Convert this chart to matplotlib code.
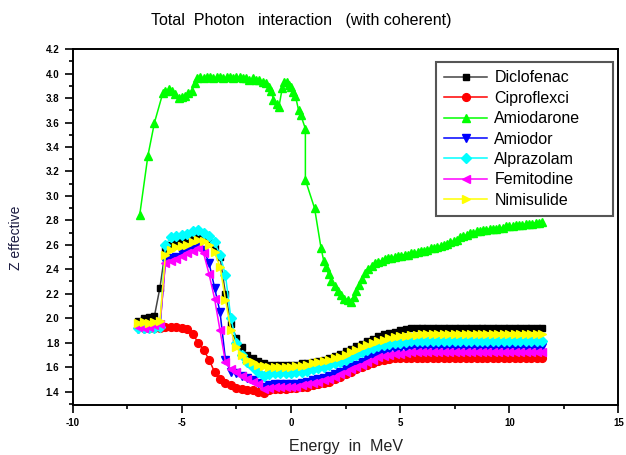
import matplotlib
matplotlib.use('Agg')
import matplotlib.pyplot as plt
from matplotlib.ticker import MultipleLocator, FormatStrFormatter

plt.rcParams['font.family'] = ['Liberation Sans', 'DejaVu Sans']
plt.rcParams['axes.unicode_minus'] = False

# shared energy grid for the six lower curves
energy = [-7.0, -6.75, -6.5, -6.25, -6.0, -5.75, -5.5, -5.25, -5.0, -4.75,
          -4.5, -4.25, -4.0, -3.75, -3.5, -3.25, -3.0, -2.75, -2.5, -2.25,
          -2.0, -1.75, -1.5, -1.25, -1.0, -0.75, -0.5, -0.25, 0.0, 0.25,
          0.5, 0.75, 1.0, 1.25, 1.5, 1.75, 2.0, 2.25, 2.5, 2.75,
          3.0, 3.25, 3.5, 3.75, 4.0, 4.25, 4.5, 4.75, 5.0, 5.25,
          5.5, 5.75, 6.0, 6.25, 6.5, 6.75, 7.0, 7.25, 7.5, 7.75,
          8.0, 8.25, 8.5, 8.75, 9.0, 9.25, 9.5, 9.75, 10.0, 10.25,
          10.5, 10.75, 11.0, 11.25, 11.5]

diclofenac = [1.98, 2.00, 2.01, 2.02, 2.25, 2.56, 2.60, 2.62, 2.62, 2.63,
              2.65, 2.66, 2.65, 2.62, 2.57, 2.50, 2.20, 1.95, 1.84, 1.76,
              1.70, 1.67, 1.65, 1.63, 1.62, 1.62, 1.62, 1.62, 1.62, 1.62,
              1.63, 1.63, 1.64, 1.65, 1.66, 1.67, 1.69, 1.71, 1.73, 1.75,
              1.77, 1.79, 1.81, 1.83, 1.85, 1.87, 1.88, 1.89, 1.90, 1.91,
              1.92, 1.92, 1.92, 1.92, 1.92, 1.92, 1.92, 1.92, 1.92, 1.92,
              1.92, 1.92, 1.92, 1.92, 1.92, 1.92, 1.92, 1.92, 1.92, 1.92,
              1.92, 1.92, 1.92, 1.92, 1.92]

ciproflexci = [1.93, 1.92, 1.92, 1.92, 1.92, 1.93, 1.93, 1.93, 1.92, 1.91,
               1.87, 1.80, 1.74, 1.66, 1.56, 1.50, 1.47, 1.45, 1.43, 1.42,
               1.41, 1.41, 1.40, 1.39, 1.41, 1.42, 1.42, 1.42, 1.43, 1.43,
               1.44, 1.44, 1.45, 1.46, 1.47, 1.48, 1.50, 1.52, 1.54, 1.56,
               1.58, 1.60, 1.62, 1.635, 1.65, 1.66, 1.665, 1.67, 1.67, 1.67,
               1.67, 1.67, 1.67, 1.67, 1.67, 1.67, 1.67, 1.67, 1.67, 1.67,
               1.67, 1.67, 1.67, 1.67, 1.67, 1.67, 1.67, 1.67, 1.67, 1.67,
               1.67, 1.67, 1.67, 1.67, 1.67]

amiodor = [1.91, 1.91, 1.92, 1.92, 1.93, 2.47, 2.49, 2.50, 2.53, 2.55,
           2.57, 2.59, 2.56, 2.45, 2.25, 2.05, 1.66, 1.56, 1.55, 1.53,
           1.51, 1.49, 1.47, 1.44, 1.45, 1.46, 1.46, 1.46, 1.46, 1.46,
           1.47, 1.48, 1.49, 1.50, 1.51, 1.525, 1.54, 1.56, 1.58, 1.60,
           1.62, 1.645, 1.67, 1.69, 1.71, 1.725, 1.74, 1.745, 1.75, 1.755,
           1.76, 1.76, 1.76, 1.76, 1.76, 1.76, 1.76, 1.76, 1.76, 1.76,
           1.76, 1.76, 1.76, 1.76, 1.76, 1.76, 1.76, 1.76, 1.76, 1.76,
           1.76, 1.76, 1.76, 1.76, 1.76]

alprazolam = [1.92, 1.92, 1.92, 1.92, 1.93, 2.60, 2.66, 2.67, 2.68, 2.69,
              2.71, 2.72, 2.70, 2.67, 2.62, 2.52, 2.35, 2.00, 1.80, 1.70,
              1.64, 1.60, 1.56, 1.53, 1.54, 1.55, 1.55, 1.55, 1.55, 1.56,
              1.56, 1.57, 1.58, 1.59, 1.60, 1.615, 1.63, 1.645, 1.66, 1.68,
              1.70, 1.72, 1.74, 1.755, 1.77, 1.78, 1.79, 1.795, 1.80, 1.805,
              1.81, 1.81, 1.81, 1.81, 1.81, 1.81, 1.81, 1.81, 1.81, 1.81,
              1.81, 1.81, 1.81, 1.81, 1.81, 1.81, 1.81, 1.81, 1.81, 1.81,
              1.81, 1.81, 1.81, 1.81, 1.81]

femitodine = [1.93, 1.92, 1.93, 1.94, 1.95, 2.45, 2.47, 2.48, 2.51, 2.53,
              2.55, 2.57, 2.53, 2.36, 2.16, 1.90, 1.64, 1.58, 1.56, 1.53,
              1.50, 1.48, 1.46, 1.42, 1.43, 1.44, 1.44, 1.44, 1.44, 1.44,
              1.45, 1.46, 1.47, 1.48, 1.49, 1.505, 1.52, 1.54, 1.56, 1.58,
              1.60, 1.62, 1.64, 1.66, 1.68, 1.69, 1.70, 1.705, 1.71, 1.715,
              1.72, 1.72, 1.72, 1.72, 1.72, 1.72, 1.72, 1.72, 1.72, 1.72,
              1.72, 1.72, 1.72, 1.72, 1.72, 1.72, 1.72, 1.72, 1.72, 1.72,
              1.72, 1.72, 1.72, 1.72, 1.72]

nimisulide = [1.96, 1.97, 1.96, 1.97, 1.98, 2.52, 2.56, 2.58, 2.59, 2.60,
              2.62, 2.64, 2.63, 2.60, 2.54, 2.42, 2.15, 1.90, 1.76, 1.70,
              1.66, 1.64, 1.62, 1.61, 1.60, 1.60, 1.60, 1.60, 1.60, 1.61,
              1.61, 1.62, 1.63, 1.64, 1.65, 1.66, 1.67, 1.685, 1.70, 1.72,
              1.74, 1.76, 1.78, 1.795, 1.81, 1.825, 1.84, 1.845, 1.85, 1.855,
              1.86, 1.865, 1.87, 1.87, 1.87, 1.87, 1.87, 1.87, 1.87, 1.87,
              1.87, 1.87, 1.87, 1.87, 1.87, 1.87, 1.87, 1.87, 1.87, 1.87,
              1.87, 1.87, 1.87, 1.87, 1.87]

# Amiodarone sits on its own grid
amio_energy = [-6.93, -6.55, -6.25, -5.87, -5.75, -5.6, -5.45, -5.3, -5.15, -5.0,
               -4.85, -4.7, -4.55, -4.4, -4.3, -4.15, -4.0, -3.85, -3.7, -3.55,
               -3.4, -3.25, -3.1, -2.95, -2.8, -2.65, -2.5, -2.35, -2.2, -2.05,
               -1.9, -1.75, -1.6, -1.45, -1.3, -1.15, -1.0, -0.9, -0.8, -0.65,
               -0.55, -0.4, -0.3, -0.2, -0.1, 0.0, 0.1, 0.2, 0.35, 0.45,
               0.66, 0.66, 1.08, 1.38, 1.5, 1.6, 1.72, 1.85, 2.0, 2.15,
               2.3, 2.45, 2.6, 2.75, 2.9, 3.0, 3.1, 3.25, 3.4, 3.55,
               3.7, 3.85, 4.0, 4.15, 4.3, 4.45, 4.6, 4.75, 4.9, 5.05,
               5.2, 5.35, 5.5, 5.65, 5.8, 5.95, 6.1, 6.25, 6.4, 6.55,
               6.7, 6.85, 7.0, 7.15, 7.3, 7.45, 7.6, 7.75, 7.9, 8.05,
               8.2, 8.35, 8.5, 8.65, 8.8, 8.95, 9.1, 9.25, 9.4, 9.55,
               9.7, 9.85, 10.0, 10.15, 10.3, 10.45, 10.6, 10.75, 10.9, 11.05,
               11.2, 11.35, 11.5]
amiodarone = [2.84, 3.33, 3.60, 3.84, 3.86, 3.87, 3.86, 3.83, 3.80, 3.81,
              3.82, 3.84, 3.86, 3.92, 3.96, 3.97, 3.96, 3.97, 3.97, 3.96,
              3.97, 3.97, 3.96, 3.97, 3.97, 3.96, 3.97, 3.97, 3.96, 3.96,
              3.95, 3.96, 3.95, 3.95, 3.93, 3.92, 3.89, 3.86, 3.78, 3.75,
              3.73, 3.88, 3.93, 3.93, 3.91, 3.89, 3.85, 3.82, 3.70, 3.66,
              3.55, 3.13, 2.90, 2.57, 2.47, 2.42, 2.36, 2.30, 2.26, 2.22,
              2.19, 2.16, 2.15, 2.13, 2.17, 2.22, 2.27, 2.32, 2.37, 2.40,
              2.43, 2.45, 2.46, 2.47, 2.48, 2.49, 2.49, 2.50, 2.51, 2.51,
              2.52, 2.52, 2.53, 2.53, 2.54, 2.55, 2.55, 2.56, 2.57, 2.57,
              2.58, 2.59, 2.60, 2.61, 2.62, 2.63, 2.64, 2.66, 2.67, 2.68,
              2.70, 2.70, 2.71, 2.71, 2.72, 2.72, 2.73, 2.73, 2.73, 2.74,
              2.74, 2.75, 2.75, 2.75, 2.76, 2.76, 2.76, 2.77, 2.77, 2.77,
              2.78, 2.78, 2.79]

fig = plt.figure(figsize=(6.26, 4.55), dpi=100)
ax = fig.add_axes([0.116, 0.110, 0.872, 0.782])

ax.plot(energy, diclofenac, color='#444444', lw=1.1, marker='s', ms=4,
        mfc='black', mec='black', label='Diclofenac')
ax.plot(energy, ciproflexci, color='#ff0000', lw=1.1, marker='o', ms=5.6,
        label='Ciproflexci')
ax.plot(amio_energy, amiodarone, color='#00ff00', lw=1.1, marker='^', ms=6,
        label='Amiodarone')
ax.plot(energy, amiodor, color='#0000ff', lw=1.1, marker='v', ms=5.8,
        label='Amiodor')
ax.plot(energy, alprazolam, color='#00ffff', lw=1.1, marker='D', ms=4.8,
        label='Alprazolam')
ax.plot(energy, femitodine, color='#ff00ff', lw=1.1, marker='<', ms=5.8,
        label='Femitodine')
ax.plot(energy, nimisulide, color='#ffff00', lw=1.1, marker='>', ms=5.8,
        label='Nimisulide')

ax.set_xlim(-10, 15)
ax.set_ylim(1.29, 4.2)
ax.xaxis.set_major_locator(MultipleLocator(5))
ax.xaxis.set_minor_locator(MultipleLocator(2.5))
ax.yaxis.set_major_locator(MultipleLocator(0.2))
ax.yaxis.set_minor_locator(MultipleLocator(0.1))
ax.yaxis.set_major_formatter(FormatStrFormatter('%.1f'))
ax.tick_params(which='both', direction='out', top=False, right=False,
               labelsize=7, width=1.2)
ax.tick_params(which='major', length=5.5, pad=4)
ax.tick_params(which='minor', length=3)
for lab in ax.get_xticklabels() + ax.get_yticklabels():
    lab.set_fontweight('bold')
for s in ax.spines.values():
    s.set_linewidth(1.4)

ax.set_xlabel('Energy  in  MeV', fontsize=11.5, color='#222222', labelpad=8)
fig.text(0.026, 0.477, 'Z effective', rotation=90, ha='center', va='center',
         fontsize=10, color='#1a1a40')
fig.text(0.482, 0.956, 'Total  Photon   interaction   (with coherent)',
         ha='center', va='center', fontsize=11.5)

leg = ax.legend(loc='upper left', bbox_to_anchor=(0.666, 0.5, 0.324, 0.463),
                mode='expand', borderaxespad=0, fontsize=11.5,
                labelspacing=0.34, handlelength=2.7, handletextpad=0.45,
                fancybox=False, framealpha=1, borderpad=0.5)
leg.get_frame().set_edgecolor('#555555')
leg.get_frame().set_linewidth(1.5)

fig.savefig('out.png', dpi=100)
